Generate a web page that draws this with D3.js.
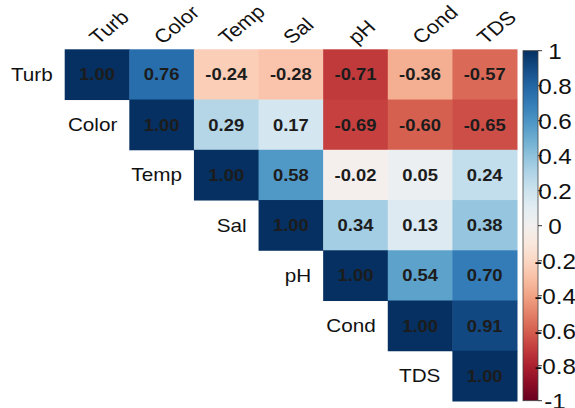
<!DOCTYPE html>
<html>
<head>
<meta charset="utf-8">
<script src="https://cdn.jsdelivr.net/npm/d3@7"></script>
<style>
body { margin: 0; background: #fff; }
text { font-family: "Liberation Sans", Arial, sans-serif; }
</style>
</head>
<body>
<script>
const width = 575
const height = 408
const vars = ["Turb", "Color", "Temp", "Sal", "pH", "Cond", "TDS"]
// upper triangle, row by row (starting at the diagonal)
const rowValues = [
    [1.00, 0.76, -0.24, -0.28, -0.71, -0.36, -0.57],
    [1.00, 0.29, 0.17, -0.69, -0.60, -0.65],
    [1.00, 0.58, -0.02, 0.05, 0.24],
    [1.00, 0.34, 0.13, 0.38],
    [1.00, 0.54, 0.70],
    [1.00, 0.91],
    [1.00]
]
const legendTicks = [1, 0.8, 0.6, 0.4, 0.2, 0, -0.2, -0.4, -0.6, -0.8, -1]

const stretch = 1.15
const svg = d3.select("body")
    .append("svg")
    .attr("width", width)
    .attr("height", height)

const x = d3.scaleBand().domain(vars).range([64.7, 517])
const y = d3.scaleBand().domain(vars).range([49.3, 401])
const color = d3.scaleSequential(d3.interpolateRdBu).domain([-1, 1])

let cells = []
rowValues.forEach((row, i) => {
    row.forEach((v, k) => {
        cells.push({r: vars[i], c: vars[i + k], v: v})
    })
})

svg.append("g").selectAll("rect")
    .data(cells)
    .join("rect")
    .attr("x", d => x(d.c))
    .attr("y", d => y(d.r))
    .attr("width", x.bandwidth() + 0.5)
    .attr("height", y.bandwidth() + 0.5)
    .attr("fill", d => color(d.v))

svg.append("g").selectAll("text")
    .data(cells)
    .join("text")
    .attr("transform", d => `translate(${x(d.c) + x.bandwidth() / 2},${y(d.r) + y.bandwidth() / 2 + 6}) scale(${stretch},1)`)
    .attr("text-anchor", "middle")
    .attr("font-size", 16)
    .attr("font-weight", "bold")
    .attr("fill", "#1c1c1c")
    .text(d => d.v.toFixed(2))

// row labels next to the diagonal
svg.append("g").selectAll("text")
    .data(vars)
    .join("text")
    .attr("transform", d => `translate(${x(d) - 12},${y(d) + y.bandwidth() / 2 + 6.5}) scale(${stretch},1)`)
    .attr("text-anchor", "end")
    .attr("font-size", 18)
    .attr("fill", "#111")
    .text(d => d)

// column labels on top, rotated
svg.append("g").selectAll("text")
    .data(vars)
    .join("text")
    .attr("transform", d => `translate(${x(d) + x.bandwidth() / 2 + 1},${45}) scale(${stretch},1) rotate(-43)`)
    .attr("text-anchor", "start")
    .attr("font-size", 19)
    .attr("fill", "#111")
    .text(d => d)

// colour legend
const barX = 523
const barW = 15
const ly = d3.scaleLinear().domain([-1, 1]).range([400.7, 50.7])
const grad = svg.append("defs").append("linearGradient")
    .attr("id", "bar")
    .attr("x1", 0).attr("x2", 0).attr("y1", 1).attr("y2", 0)
d3.range(0, 1.0001, 0.05).forEach(t => {
    grad.append("stop")
        .attr("offset", t)
        .attr("stop-color", color(-1 + 2 * t))
})
svg.append("rect")
    .attr("x", barX)
    .attr("y", ly(1))
    .attr("width", barW)
    .attr("height", ly(-1) - ly(1))
    .attr("fill", "url(#bar)")
    .attr("stroke", "#444")
    .attr("stroke-width", 0.8)

const lg = svg.append("g").selectAll("g")
    .data(legendTicks)
    .join("g")
    .attr("transform", d => `translate(${barX + barW},${ly(d)})`)
lg.append("line")
    .attr("x1", 0).attr("x2", 4)
    .attr("stroke", "#333")
    .attr("stroke-width", 1)
lg.append("text")
    .attr("transform", `translate(17,8) scale(1.1,1)`)
    .attr("text-anchor", "middle")
    .attr("font-size", 22)
    .attr("fill", "#111")
    .text(d => d)
</script>
</body>
</html>
